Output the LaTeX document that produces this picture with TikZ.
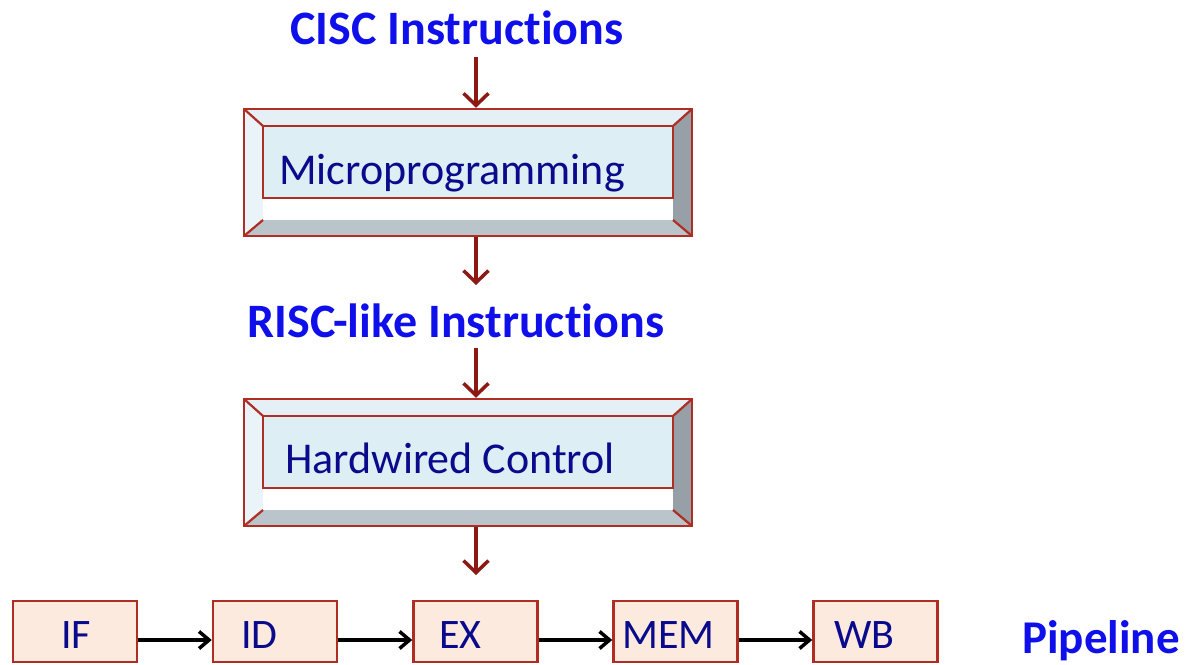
\documentclass[tikz,border=0pt]{standalone}
\usepackage{fontspec}
\setmainfont{Carlito}[Ligatures=NoCommon, RawFeature={-liga;-clig;-calt;-dlig}]
\usetikzlibrary{arrows.meta}
\definecolor{boxred}{RGB}{175,45,35}
\definecolor{arrowred}{RGB}{140,25,20}
\definecolor{titleblue}{RGB}{15,15,235}
\definecolor{textnavy}{RGB}{10,10,140}
\definecolor{peach}{RGB}{252,234,222}
\definecolor{facebl}{RGB}{222,238,245}
\definecolor{topbev}{RGB}{228,240,246}
\definecolor{leftbev}{RGB}{234,243,248}
\definecolor{rightbev}{RGB}{150,160,166}
\definecolor{botbev}{RGB}{186,197,203}
\tikzset{
  title/.style={text=titleblue, inner sep=0pt, anchor=base, font=\bfseries\fontsize{48bp}{56bp}\selectfont},
  boxlabel/.style={text=textnavy, inner sep=0pt, anchor=base west, font=\fontsize{44bp}{52bp}\selectfont},
  stagelabel/.style={text=textnavy, inner sep=0pt, anchor=base west, font=\fontsize{42bp}{50bp}\selectfont},
  stagebox/.style={draw=boxred, fill=peach, line width=2.5bp, minimum width=124bp, minimum height=61bp, inner sep=0pt},
  outerbox/.style={draw=boxred, line width=2.5bp, minimum width=448bp, minimum height=127bp, inner sep=0pt},
  redarrow/.style={draw=arrowred, line width=3.5bp, -{Straight Barb[length=12bp,width=25bp,line width=3.5bp]}},
  blackarrow/.style={draw=black, line width=3.5bp, -{Straight Barb[length=10bp,width=17bp,line width=3.5bp]}},
  bevline/.style={draw=boxred, line width=2.2bp},
}
\newcommand{\bevbox}[2]{%
  % #1 node name, #2 top y
  \fill[topbev] (244,#2) -- (692,#2) -- (673,{#2+17}) -- (263,{#2+17}) -- cycle;
  \fill[leftbev] (244,#2) -- (263,{#2+17}) -- (263,{#2+111}) -- (244,{#2+127}) -- cycle;
  \fill[rightbev] (692,#2) -- (692,{#2+127}) -- (673,{#2+111}) -- (673,{#2+17}) -- cycle;
  \fill[botbev] (244,{#2+127}) -- (692,{#2+127}) -- (673,{#2+111}) -- (263,{#2+111}) -- cycle;
  \fill[white] (263,{#2+17}) rectangle (673,{#2+111});
  \filldraw[fill=facebl, bevline] (263,{#2+17}) rectangle (673,{#2+89});
  \draw[bevline] (244,#2) -- (263,{#2+17}) (692,#2) -- (673,{#2+17})
     (244,{#2+127}) -- (263,{#2+111}) (692,{#2+127}) -- (673,{#2+111});
  \node[outerbox] (#1) at (468,{#2+63.5}) {};
}
\begin{document}
\begin{tikzpicture}[x=1bp,y=-1bp]
\useasboundingbox[fill=white] (0,0) rectangle (1190,665);
% titles
\node[title] (cisc) at (457,45) {CISC Instruc\kern0pt tions};
\node[title] (risc) at (456,337) {RISC-like Instruc\kern0pt tions};
\node[title, anchor=base west, font=\bfseries\fontsize{47bp}{54bp}\selectfont] (pipe) at (1022,653) {Pipeline};
% bevel boxes
\bevbox{micro}{109}
\node[boxlabel] (microtxt) at (279,185) {Microprogramming};
\bevbox{hard}{399}
\node[boxlabel] (hardtxt) at (285,473) {Hardwired Control};
% pipeline stages
\node[stagebox] (IF) at (75,631.5) {};
\node[stagebox] (ID) at (275,631.5) {};
\node[stagebox] (EX) at (475.5,631.5) {};
\node[stagebox] (MEM) at (675.5,631.5) {};
\node[stagebox] (WB) at (875.5,631.5) {};
\node[stagelabel] (IFt) at (61,648) {IF};
\node[stagelabel] (IDt) at (241,648) {ID};
\node[stagelabel] (EXt) at (439,648) {EX};
\node[stagelabel] (MEMt) at (622,648) {MEM};
\node[stagelabel] (WBt) at (834,648) {WB};
% coordinates for red arrows
\coordinate (a1s) at (476,57);
\coordinate (a2e) at (476,285);
\coordinate (a3s) at (476,348);
\coordinate (a4e) at (476,575);
\draw[redarrow] (a1s) -- (micro.north -| a1s);
\draw[redarrow] (micro.south -| a1s) -- (a2e);
\draw[redarrow] (a3s) -- (hard.north -| a3s);
\draw[redarrow] (hard.south -| a1s) -- (a4e);
% black arrows
\foreach \a/\b in {IF/ID, ID/EX, EX/MEM, MEM/WB}
  \draw[blackarrow] ([yshift=-8.5bp]\a.east) -- ([yshift=-8.5bp]\b.west);
\end{tikzpicture}
\end{document}
